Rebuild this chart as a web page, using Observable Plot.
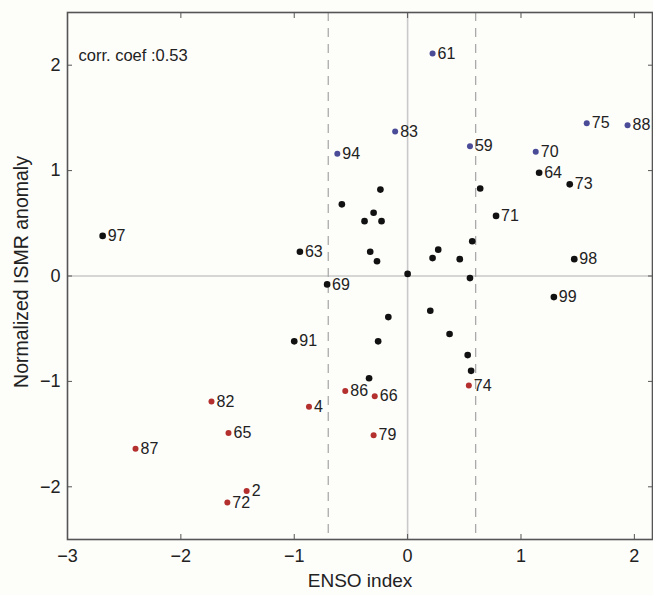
<!DOCTYPE html>
<html>
<head>
<meta charset="utf-8">
<script src="https://cdn.jsdelivr.net/npm/d3@7"></script>
<script src="https://cdn.jsdelivr.net/npm/@observablehq/plot@0.6"></script>
<style>
  html, body { margin: 0; padding: 0; background: #fdfdfa; }
  #chart svg { display: block; }
</style>
</head>
<body>
<div id="chart"></div>
<script>
// Labeled years (suffix of year) and their values
const labels = ["97","63","69","91","94","83","61","59","70","64","73","75","88","71","98","99","74","86","66","79","4","82","65","87","2","72"];
const ensoLabeled = [-2.69,-0.95,-0.71,-1.00,-0.62,-0.11,0.22,0.55,1.13,1.16,1.43,1.58,1.94,0.78,1.47,1.29,0.54,-0.55,-0.29,-0.30,-0.87,-1.73,-1.58,-2.40,-1.42,-1.59];
const ismrLabeled = [0.38,0.23,-0.08,-0.62,1.16,1.37,2.11,1.23,1.18,0.98,0.87,1.45,1.43,0.57,0.16,-0.20,-1.04,-1.09,-1.14,-1.51,-1.24,-1.19,-1.49,-1.64,-2.04,-2.15];
const groupLabeled = ["normal","normal","normal","normal","excess","excess","excess","excess","excess","normal","normal","excess","excess","normal","normal","normal","deficit","deficit","deficit","deficit","deficit","deficit","deficit","deficit","deficit","deficit"];

// Unlabeled (normal) years
const ensoOther = [-0.24,-0.58,-0.30,-0.38,-0.23,-0.33,-0.27,0.00,0.64,0.57,0.27,0.22,0.46,0.55,-0.17,-0.26,0.20,0.37,0.53,0.56,-0.34];
const ismrOther = [0.82,0.68,0.60,0.52,0.52,0.23,0.14,0.02,0.83,0.33,0.25,0.17,0.16,-0.02,-0.39,-0.62,-0.33,-0.55,-0.75,-0.90,-0.97];

const xTicks = [-3,-2,-1,0,1,2];
const yTicks = [-2,-1,0,1,2];
const ensoThresholds = [-0.7, 0.6];
const corrText = "corr. coef :0.53";
const xLabel = "ENSO index";
const yLabel = "Normalized ISMR anomaly";

const groupColors = {normal: "#111111", excess: "#4a4c98", deficit: "#b3302f"};

const points = [
  ...labels.map((l, i) => ({label: l, enso: ensoLabeled[i], ismr: ismrLabeled[i], group: groupLabeled[i]})),
  ...ensoOther.map((e, i) => ({label: "", enso: e, ismr: ismrOther[i], group: "normal"}))
];

const font = "'Liberation Sans', Arial, Helvetica, sans-serif";
const fmt = d3.format("d");

const chart = Plot.plot({
  width: 653,
  height: 595,
  marginLeft: 67,
  marginRight: 1,
  marginTop: 12,
  marginBottom: 56,
  style: {background: "#fdfdfa", fontFamily: font, color: "#222"},
  x: {domain: [-3, 2.16], axis: null},
  y: {domain: [-2.5, 2.5], axis: null},
  marks: [
    Plot.ruleX([0], {stroke: "#c9c9c9", strokeWidth: 1.6}),
    Plot.ruleY([0], {stroke: "#c9c9c9", strokeWidth: 1.6}),
    Plot.ruleX(ensoThresholds, {stroke: "#aaaaaa", strokeWidth: 1.3, strokeDasharray: "9,7"}),
    Plot.frame({stroke: "#555", strokeWidth: 1.6}),
    // inward tick marks on all four sides
    Plot.axisX({anchor: "bottom", ticks: xTicks, tickSize: -5, text: null, label: null, stroke: "#555"}),
    Plot.axisX({anchor: "top", ticks: xTicks, tickSize: -5, text: null, label: null, stroke: "#555"}),
    Plot.axisY({anchor: "left", ticks: yTicks, tickSize: -5, text: null, label: null, stroke: "#555"}),
    Plot.axisY({anchor: "right", ticks: yTicks, tickSize: -5, text: null, label: null, stroke: "#555"}),
    // tick labels
    Plot.text(xTicks, {x: d => d, frameAnchor: "bottom", lineAnchor: "middle", dy: 17, text: d => fmt(d), fontSize: 18, fill: "#222"}),
    Plot.text(yTicks, {y: d => d, frameAnchor: "left", textAnchor: "end", dx: -7, text: d => fmt(d), fontSize: 18, fill: "#222"}),
    // axis titles
    Plot.text([xLabel], {frameAnchor: "bottom", lineAnchor: "middle", dy: 41, fontSize: 19, fill: "#222"}),
    Plot.text([yLabel], {frameAnchor: "left", textAnchor: "middle", lineAnchor: "middle", rotate: -90, dx: -46, dy: -4, fontSize: 19.5, fill: "#222"}),
    // points
    Plot.dot(points, {x: "enso", y: "ismr", r: d => d.group === "normal" ? 4.3 : 3.5,
      fill: d => groupColors[d.group], stroke: "none"}),
    Plot.text(points.filter(d => d.label), {x: "enso", y: "ismr", text: "label", textAnchor: "start",
      dx: 5, fontSize: 16, fill: "#222"}),
    Plot.text([corrText], {frameAnchor: "top-left", dx: 11, dy: 43, lineAnchor: "middle", fontSize: 16.5, fill: "#222"})
  ]
});
document.getElementById("chart").appendChild(chart);
</script>
</body>
</html>
